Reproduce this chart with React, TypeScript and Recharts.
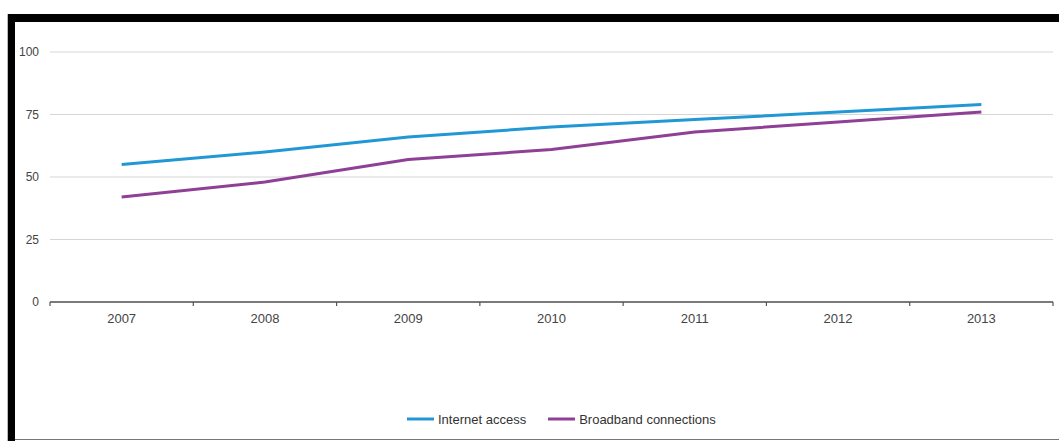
import React from "react";
import { LineChart, Line, XAxis, YAxis, CartesianGrid, Legend } from "recharts";

const years = ["2007", "2008", "2009", "2010", "2011", "2012", "2013"];
const internetAccess = [55, 60, 66, 70, 73, 76, 79];
const broadband = [42, 48, 57, 61, 68, 72, 76];
const yTicks = [0, 25, 50, 75, 100];

const seriesInfo = [
  { key: "internet", name: "Internet access", color: "#2198d5" },
  { key: "broadband", name: "Broadband connections", color: "#8f3f96" },
];

const data = years.map((y, i) => ({
  year: y,
  internet: internetAccess[i],
  broadband: broadband[i],
}));

const FONT = "'Liberation Sans', Arial, sans-serif";

const XTick = (props: any) => {
  const { x, y, payload, index, visibleTicksCount } = props;
  const off = payload && payload.offset ? payload.offset : 0;
  const last = index === (visibleTicksCount ?? years.length) - 1;
  return (
    <g>
      <line x1={x - off} x2={x - off} y1={y} y2={y + 4} stroke="#555" strokeWidth={1.2} />
      {last && <line x1={x + off} x2={x + off} y1={y} y2={y + 4} stroke="#555" strokeWidth={1.2} />}
      <text x={x} y={y + 12} dy="0.71em" textAnchor="middle" fill="#444" fontSize={13} fontFamily={FONT}>
        {payload.value}
      </text>
    </g>
  );
};

const LegendContent = () => (
  <div style={{ display: "flex", alignItems: "center", paddingLeft: 407, fontFamily: FONT, fontSize: 13, color: "#333", height: 18 }}>
    {seriesInfo.map((s, i) => (
      <div key={s.key} style={{ display: "flex", alignItems: "center", marginRight: i === 0 ? 22 : 0 }}>
        <svg width={27} height={6} style={{ marginRight: 4 }}>
          <line x1={0} x2={27} y1={3} y2={3} stroke={s.color} strokeWidth={3} />
        </svg>
        <span>{s.name}</span>
      </div>
    ))}
  </div>
);

export default function App() {
  return (
    <div style={{ position: "absolute", left: 0, top: 0, width: 1059, height: 441, background: "#fff", overflow: "hidden" }}>
      <LineChart width={1059} height={441} data={data} margin={{ top: 52, right: 6, bottom: 91, left: 0 }}>
        <CartesianGrid vertical={false} stroke="#d6d6d6" strokeWidth={1} />
        <XAxis
          dataKey="year"
          scale="band"
          axisLine={{ stroke: "#555", strokeWidth: 1.5 }}
          tickLine={false}
          tickSize={0}
          tickMargin={0}
          height={30}
          tick={<XTick />}
          interval={0}
        />
        <YAxis
          domain={[0, 100]}
          ticks={yTicks}
          axisLine={false}
          tickLine={false}
          tickSize={6}
          tickMargin={5}
          width={50}
          tick={{ fill: "#444", fontSize: 12, fontFamily: FONT }}
        />
        <Legend
          verticalAlign="bottom"
          content={<LegendContent />}
          wrapperStyle={{ top: 410, bottom: "auto", left: 0, width: 1059 }}
        />
        {seriesInfo.map((s) => (
          <Line
            key={s.key}
            dataKey={s.key}
            name={s.name}
            stroke={s.color}
            strokeWidth={3}
            dot={false}
            activeDot={false}
            isAnimationActive={false}
          />
        ))}
      </LineChart>
      <div style={{ position: "absolute", left: 7, top: 14, width: 1, height: 427, background: "#bbb" }} />
      <div style={{ position: "absolute", left: 8, top: 14, width: 1051, height: 8, background: "#000" }} />
      <div style={{ position: "absolute", left: 8, top: 14, width: 7, height: 427, background: "#000" }} />
      <div style={{ position: "absolute", left: 15, top: 439, width: 1044, height: 1, background: "#777" }} />
    </div>
  );
}
